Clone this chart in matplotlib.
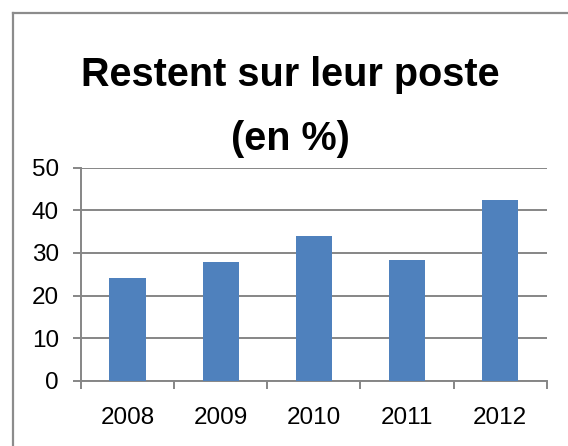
import matplotlib
matplotlib.use("Agg")
import matplotlib.pyplot as plt
from matplotlib.lines import Line2D
import numpy as np

years = ["2008", "2009", "2010", "2011", "2012"]
values = [24.1, 27.9, 34.0, 28.3, 42.4]
y_ticks = [0, 10, 20, 30, 40, 50]

bar_color = "#4F81BD"
gray = "#868686"

plt.rcParams["font.family"] = ["Liberation Sans", "DejaVu Sans"]

fig = plt.figure(figsize=(5.68, 4.46), dpi=100)
ax = fig.add_axes([0.1426, 0.1464, 0.82, 0.4776])

x = np.arange(len(years))
ax.bar(x, values, width=0.39, color=bar_color, zorder=3)

ax.set_xlim(-0.5, len(years) - 0.5)
ax.set_ylim(0, 50)
ax.set_yticks(y_ticks)
ax.set_yticklabels([str(v) for v in y_ticks])
ax.yaxis.grid(True, color=gray, linewidth=1.4, zorder=0)

# labels at centres, tick marks at the boundaries
ax.set_xticks(x)
ax.set_xticklabels(years)
ax.set_xticks(np.arange(-0.5, len(years), 1.0), minor=True)
ax.tick_params(axis="x", which="major", length=0, pad=19, labelsize=17.5)
ax.tick_params(axis="x", which="minor", length=6, width=1.4, color=gray, direction="out")
ax.tick_params(axis="y", length=6, width=1.4, color=gray, pad=10, labelsize=17.5)

for s in ["top", "right"]:
    ax.spines[s].set_visible(False)
for s in ["left", "bottom"]:
    ax.spines[s].set_color(gray)
    ax.spines[s].set_linewidth(1.4)

fig.text(290 / 568, 1 - 86 / 446, "Restent sur leur poste", ha="center",
         va="baseline", fontsize=28.5, fontweight="bold")
fig.text(290 / 568, 1 - 150 / 446, "(en %)", ha="center",
         va="baseline", fontsize=28.5, fontweight="bold")

# outer frame (only top and left visible in the crop)
fig.add_artist(Line2D([13 / 568, 13 / 568], [0, 1 - 13 / 446], transform=fig.transFigure,
                      color="#8c8c8c", linewidth=1.6))
fig.add_artist(Line2D([13 / 568, 1], [1 - 13 / 446, 1 - 13 / 446], transform=fig.transFigure,
                      color="#8c8c8c", linewidth=1.6))

fig.savefig("out.png", dpi=100)
